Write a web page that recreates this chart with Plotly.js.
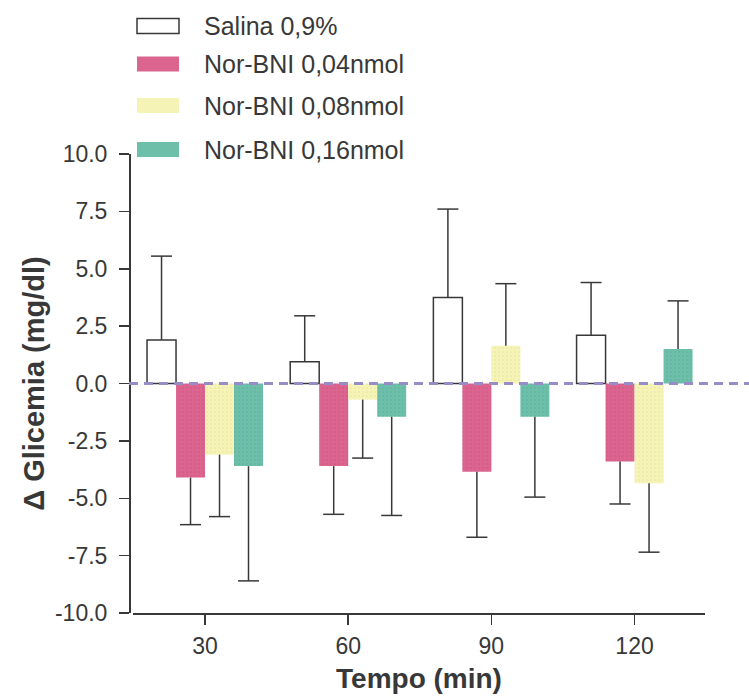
<!DOCTYPE html>
<html>
<head>
<meta charset="utf-8">
<script src="https://cdn.plot.ly/plotly-3.0.1.min.js"></script>
<style>html,body{margin:0;padding:0;background:#fff;}#chart{width:749px;height:697px;}</style>
</head>
<body>
<div id="chart"></div>
<script>
// ---- data ----
var categories = ['30', '60', '90', '120'];
var seriesNames = ['Salina 0,9%', 'Nor-BNI 0,04nmol', 'Nor-BNI 0,08nmol', 'Nor-BNI 0,16nmol'];
var salinaMean = [1.9, 0.95, 3.75, 2.1];
var salinaSem  = [3.65, 2.0, 3.85, 2.3];
var nor004Mean = [-4.1, -3.6, -3.85, -3.4];
var nor004Sem  = [2.05, 2.1, 2.85, 1.85];
var nor008Mean = [-3.1, -0.7, 1.65, -4.35];
var nor008Sem  = [2.7, 2.55, 2.7, 3.0];
var nor016Mean = [-3.6, -1.45, -1.45, 1.5];
var nor016Sem  = [5.0, 4.3, 3.5, 2.1];
var yTickVals = [-10, -7.5, -5, -2.5, 0, 2.5, 5, 7.5, 10];

// ---- styles ----
var FONT = "'Liberation Sans', Arial, Helvetica, sans-serif";
var INK = '#383838';
var styles = [
  {color: '#ffffff', line: INK, lw: 1.5, pattern: null},
  {color: '#dc6590', line: '#dc6590', lw: 0, pattern: {shape: '.', bgcolor: '#dc6590', fgcolor: '#c9527f', fgopacity: 0.8, size: 4, solidity: 0.15}},
  {color: '#f5f3b6', line: '#f5f3b6', lw: 0, pattern: {shape: '.', bgcolor: '#f5f3b6', fgcolor: '#e6e099', fgopacity: 0.8, size: 4, solidity: 0.15}},
  {color: '#6dbfa9', line: '#6dbfa9', lw: 0, pattern: {shape: '.', bgcolor: '#6dbfa9', fgcolor: '#5cae98', fgopacity: 0.8, size: 4, solidity: 0.15}}
];
var means = [salinaMean, nor004Mean, nor008Mean, nor016Mean];
var sems = [salinaSem, nor004Sem, nor008Sem, nor016Sem];

var traces = [];
means.forEach(function (m, k) {
  var s = sems[k];
  var plus = m.map(function (v, i) { return v >= 0 ? s[i] : 0; });
  var minus = m.map(function (v, i) { return v < 0 ? s[i] : 0; });
  var marker = {color: styles[k].color, line: {color: styles[k].line, width: styles[k].lw}};
  if (styles[k].pattern) marker.pattern = styles[k].pattern;
  traces.push({
    type: 'bar', name: seriesNames[k], x: categories, y: m,
    offsetgroup: String(k), marker: marker, showlegend: false, hoverinfo: 'x+y',
    error_y: {type: 'data', symmetric: false, array: plus, arrayminus: minus,
              color: INK, thickness: 1.5, width: 0}
  });
});
// error bar caps at the tips
means.forEach(function (m, k) {
  var s = sems[k];
  var tips = m.map(function (v, i) { return v >= 0 ? v + s[i] : v - s[i]; });
  traces.push({
    type: 'scatter', mode: 'markers', x: categories, y: tips, offsetgroup: String(k),
    marker: {symbol: 'line-ew', size: 15, color: INK, line: {color: INK, width: 1.5}},
    showlegend: false, hoverinfo: 'skip'
  });
});

// ---- geometry helpers (pixels -> paper) ----
var W = 749, H = 697, ML = 129, MR = 44, MT = 154, MB = 84;
var PW = W - ML - MR, PH = H - MT - MB;
function px(x) { return (x - ML) / PW; }
function py(y) { return (H - MB - y) / PH; }

var shapes = [{
  type: 'line', xref: 'paper', yref: 'y', x0: 0, x1: px(W), y0: 0, y1: 0,
  line: {color: '#988cc8', width: 3, dash: '9px,6px'}, layer: 'above'
}];
var annotations = [];
var rowY = [26, 64, 105.5, 149.5];
seriesNames.forEach(function (name, k) {
  shapes.push({
    type: 'rect', xref: 'paper', yref: 'paper',
    x0: px(137), x1: px(179), y0: py(rowY[k] + 7.5), y1: py(rowY[k] - 7.5),
    fillcolor: k === 0 ? 'rgba(0,0,0,0)' : styles[k].color,
    line: {color: k === 0 ? INK : styles[k].color, width: k === 0 ? 1.5 : 0}
  });
  annotations.push({
    xref: 'paper', yref: 'paper', x: px(202), y: py(rowY[k]), xanchor: 'left', yanchor: 'middle',
    text: name, showarrow: false, font: {family: FONT, size: 25, color: INK}
  });
});

var layout = {
  width: W, height: H,
  margin: {l: ML, r: MR, t: MT, b: MB, pad: 0},
  paper_bgcolor: '#ffffff', plot_bgcolor: '#ffffff',
  font: {family: FONT, color: INK},
  barmode: 'group', bargap: 0.19, bargroupgap: 0,
  scattermode: 'group', scattergap: 0.19,
  showlegend: false,
  xaxis: {
    type: 'category', domain: [px(133), 1], range: [-0.503, 3.492],
    showline: true, linecolor: INK, linewidth: 1.5,
    ticks: 'outside', ticklen: 10, tickwidth: 1.5, tickcolor: INK,
    tickfont: {family: FONT, size: 23, color: INK}, ticklabelstandoff: 2,
    showgrid: false, zeroline: false, fixedrange: true,
    title: {text: 'Tempo (min)', font: {family: FONT, size: 28, color: INK, weight: 'bold'}, standoff: 10}
  },
  yaxis: {
    range: [-10, 10], anchor: 'free', position: 0,
    tickmode: 'array', tickvals: yTickVals, ticktext: yTickVals.map(function (v) { return v.toFixed(1); }),
    showline: true, linecolor: INK, linewidth: 1.5,
    ticks: 'outside', ticklen: 10, tickwidth: 1.5, tickcolor: INK,
    tickfont: {family: FONT, size: 23, color: INK}, ticklabelstandoff: 7,
    showgrid: false, zeroline: false, fixedrange: true,
    title: {text: 'Δ Glicemia (mg/dl)', font: {family: FONT, size: 29, color: INK, weight: 'bold'}, standoff: 0}
  },
  shapes: shapes,
  annotations: annotations
};

Plotly.newPlot('chart', traces, layout, {displayModeBar: false, staticPlot: true});
</script>
</body>
</html>
